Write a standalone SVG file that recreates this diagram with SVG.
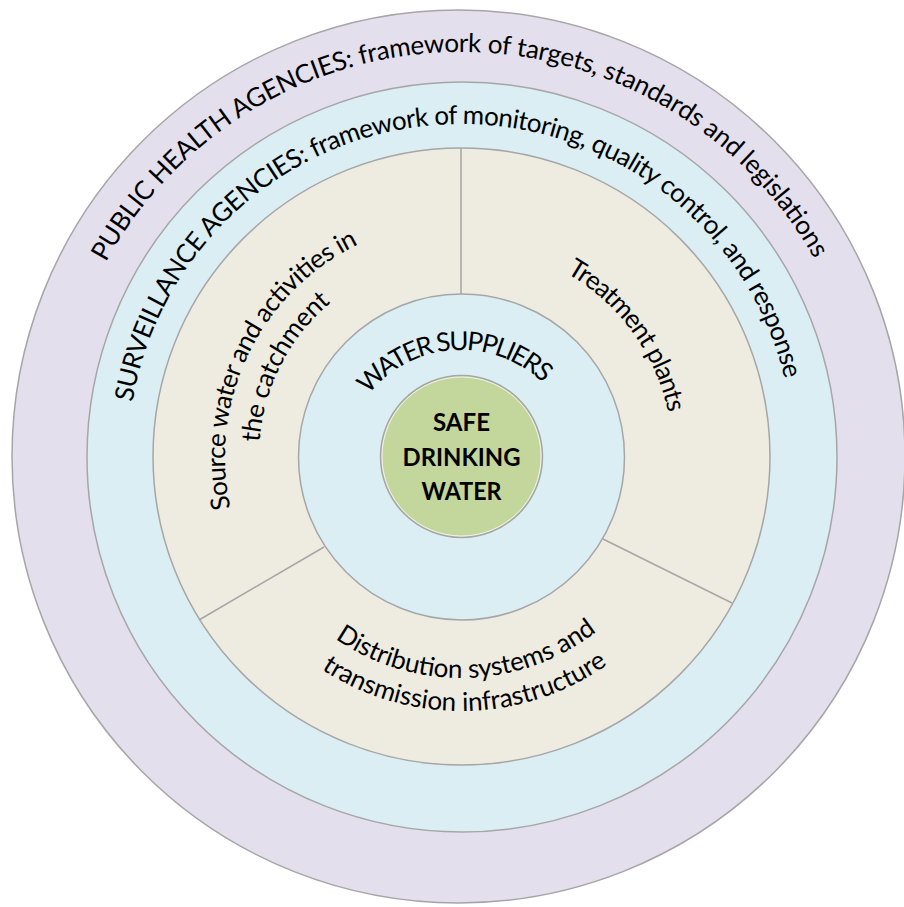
<svg xmlns="http://www.w3.org/2000/svg" width="904" height="907" viewBox="0 0 904 907">
<style>
.ring{stroke:#A6A6A6;stroke-width:1.5}
.lbl{font-family:Lato,"Open Sans","Liberation Sans",sans-serif;font-size:26px;fill:#000}
.core{font-family:Lato,"Open Sans","Liberation Sans",sans-serif;font-size:24px;font-weight:bold;fill:#000;text-anchor:middle}
.div{stroke:#A6A6A6;stroke-width:1.5;fill:none}
</style>
<defs>
<path id="pOuter" d="M 56 457 A 405 405 0 1 1 866 457 A 405 405 0 1 1 56 457"/>
<path id="pSurv" d="M 128 457 A 333 333 0 1 1 794 457 A 333 333 0 1 1 128 457"/>
<path id="pWS" d="M 343 468 A 118 118 0 1 1 579 468 A 118 118 0 1 1 343 468"/>
<path id="pTreat" d="M 249 457 A 212 212 0 1 1 673 457 A 212 212 0 1 1 249 457"/>
<path id="pSrc1" d="M 461 693 A 236 236 0 1 1 461 221 A 236 236 0 1 1 461 693"/>
<path id="pSrc2" d="M 461 659 A 202 202 0 1 1 461 255 A 202 202 0 1 1 461 659"/>
<path id="pDist1" d="M 240 457 A 221 221 0 0 0 682 457"/>
<path id="pDist2" d="M 207 457 A 254 254 0 0 0 715 457"/>
</defs>
<rect width="904" height="907" fill="#FFFFFF"/>
<g id="public-health">
<circle class="ring" cx="458.5" cy="456.5" r="446.5" fill="#E4DFEC"/>
<text class="lbl"><textPath href="#pOuter" startOffset="203" textLength="862" lengthAdjust="spacing">PUBLIC HEALTH AGENCIES: framework of targets, standards and legislations</textPath></text>
</g>
<g id="surveillance">
<circle class="ring" cx="462" cy="457" r="375" fill="#DAEEF3"/>
<text class="lbl"><textPath href="#pSurv" startOffset="55" textLength="912" lengthAdjust="spacing">SURVEILLANCE AGENCIES: framework of monitoring, quality control, and response</textPath></text>
</g>
<g id="process-ring">
<circle class="ring" cx="461.5" cy="456.5" r="308.5" fill="#EEECE1"/>
</g>
<g id="connectors">
<line class="div" x1="461" y1="148" x2="461" y2="294"/>
<line class="div" x1="199" y1="620" x2="324" y2="547"/>
<line class="div" x1="603" y1="539" x2="732" y2="603"/>
</g>
<g id="source-water">
<text class="lbl"><textPath href="#pSrc1" startOffset="319" textLength="316" lengthAdjust="spacing">Source water and activities in</textPath></text>
<text class="lbl"><textPath href="#pSrc2" startOffset="332" textLength="161" lengthAdjust="spacing">the catchment</textPath></text>
</g>
<g id="treatment">
<text class="lbl"><textPath href="#pTreat" startOffset="443" textLength="178" lengthAdjust="spacing">Treatment plants</textPath></text>
</g>
<g id="distribution">
<text class="lbl"><textPath href="#pDist1" startOffset="213" textLength="280" lengthAdjust="spacing">Distribution systems and</textPath></text>
<text class="lbl"><textPath href="#pDist2" startOffset="251" textLength="304" lengthAdjust="spacing">transmission infrastructure</textPath></text>
</g>
<g id="water-suppliers">
<circle class="ring" cx="461.5" cy="457" r="163" fill="#DAEEF3"/>
<text class="lbl"><textPath href="#pWS" startOffset="79" textLength="197" lengthAdjust="spacing">WATER SUPPLIERS</textPath></text>
</g>
<g id="safe-drinking-water">
<circle cx="461.5" cy="456.5" r="81" fill="#C3D69B" stroke="#A6A6A6" stroke-width="1.5"/>
<circle cx="461.5" cy="456.5" r="79.5" fill="none" stroke="#F2F2F2" stroke-width="1"/>
<text class="core" x="461.5" y="431" textLength="57" lengthAdjust="spacingAndGlyphs">SAFE</text>
<text class="core" x="461.5" y="466" textLength="118" lengthAdjust="spacingAndGlyphs">DRINKING</text>
<text class="core" x="461.5" y="500" textLength="80" lengthAdjust="spacingAndGlyphs">WATER</text>
</g>
</svg>
